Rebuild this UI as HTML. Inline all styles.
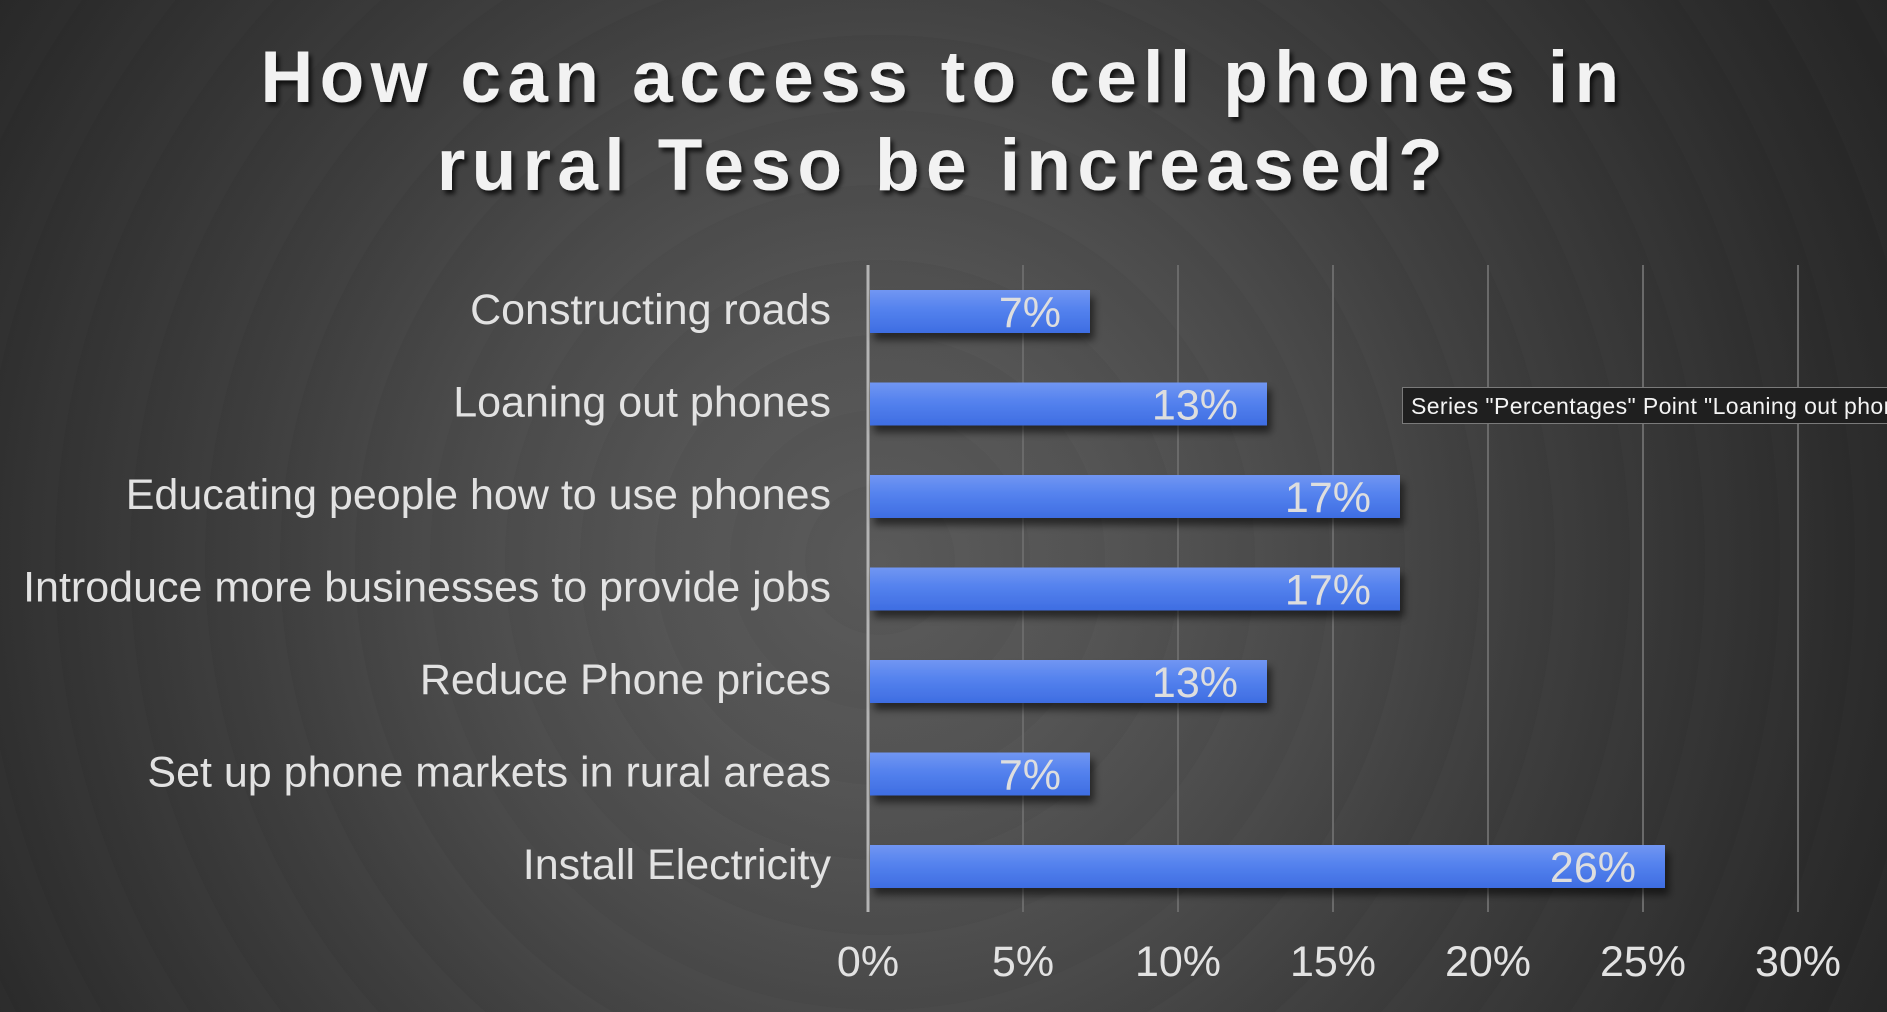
<!DOCTYPE html>
<html>
<head>
<meta charset="utf-8">
<style>
  html, body { margin:0; padding:0; }
  body {
    width:1887px; height:1012px; overflow:hidden; position:relative;
    background: radial-gradient(circle at 880px 560px, #585858 0px, #535353 220px, #4a4a4a 420px, #3e3e3e 620px, #323232 850px, #2a2a2a 1000px, #232323 1200px);
    font-family: "Liberation Sans", Arial, sans-serif;
  }
  .bands {
    position:absolute; left:0; top:0; width:1887px; height:1012px;
    background: repeating-radial-gradient(circle at 880px 560px, rgba(255,255,255,0.012) 0px, rgba(0,0,0,0.012) 75px);
  }
  svg { position:absolute; left:0; top:0; }
</style>
</head>
<body>
<div class="bands"></div>
<svg width="1887" height="1012" viewBox="0 0 1887 1012" xmlns="http://www.w3.org/2000/svg">
  <defs>
    <linearGradient id="bar" x1="0" y1="0" x2="0" y2="1">
      <stop offset="0" stop-color="#7196f2"/>
      <stop offset="0.45" stop-color="#5482ee"/>
      <stop offset="1" stop-color="#3e6de2"/>
    </linearGradient>
    <filter id="bshadow" x="-10%" y="-30%" width="120%" height="190%">
      <feDropShadow dx="4" dy="7" stdDeviation="4" flood-color="#000" flood-opacity="0.55"/>
    </filter>
    <filter id="tshadow" x="-5%" y="-20%" width="110%" height="150%">
      <feDropShadow dx="3" dy="4" stdDeviation="2.5" flood-color="#000" flood-opacity="0.75"/>
    </filter>
  </defs>

  <!-- Title -->
  <g filter="url(#tshadow)" fill="#f2f2f2" font-family="Liberation Sans, Arial, sans-serif" font-weight="bold" font-size="73" letter-spacing="6.4" text-anchor="middle">
    <text x="943" y="102">How can access to cell phones in</text>
    <text x="943" y="190">rural Teso be increased?</text>
  </g>

  <!-- Gridlines -->
  <g stroke="#6a6a6a" stroke-width="2">
    <line x1="1023" y1="265" x2="1023" y2="912"/>
    <line x1="1178" y1="265" x2="1178" y2="912"/>
    <line x1="1333" y1="265" x2="1333" y2="912"/>
    <line x1="1488" y1="265" x2="1488" y2="912"/>
    <line x1="1643" y1="265" x2="1643" y2="912"/>
    <line x1="1798" y1="265" x2="1798" y2="912"/>
  </g>
  <!-- Axis line -->
  <line x1="868" y1="265" x2="868" y2="912" stroke="#b4b4b4" stroke-width="3"/>

  <!-- Bars -->
  <g fill="url(#bar)" filter="url(#bshadow)">
    <rect x="870" y="290" width="220" height="43"/>
    <rect x="870" y="382.5" width="397" height="43"/>
    <rect x="870" y="475" width="530" height="43"/>
    <rect x="870" y="567.5" width="530" height="43"/>
    <rect x="870" y="660" width="397" height="43"/>
    <rect x="870" y="752.5" width="220" height="43"/>
    <rect x="870" y="845" width="795" height="43"/>
  </g>

  <!-- Data labels -->
  <g fill="#dedede" font-family="Liberation Sans, Arial, sans-serif" font-size="43" text-anchor="end">
    <text x="1061" y="327">7%</text>
    <text x="1238" y="419.5">13%</text>
    <text x="1371" y="512">17%</text>
    <text x="1371" y="604.5">17%</text>
    <text x="1238" y="697">13%</text>
    <text x="1061" y="789.5">7%</text>
    <text x="1636" y="882">26%</text>
  </g>

  <!-- Category labels -->
  <g fill="#e2e2e2" font-family="Liberation Sans, Arial, sans-serif" font-size="43" text-anchor="end">
    <text x="831" y="324">Constructing roads</text>
    <text x="831" y="416.5">Loaning out phones</text>
    <text x="831" y="509">Educating people how to use phones</text>
    <text x="831" y="601.5">Introduce more businesses to provide jobs</text>
    <text x="831" y="694">Reduce Phone prices</text>
    <text x="831" y="786.5">Set up phone markets in rural areas</text>
    <text x="831" y="879">Install Electricity</text>
  </g>

  <!-- Tick labels -->
  <g fill="#e2e2e2" font-family="Liberation Sans, Arial, sans-serif" font-size="43" text-anchor="middle">
    <text x="868" y="976">0%</text>
    <text x="1023" y="976">5%</text>
    <text x="1178" y="976">10%</text>
    <text x="1333" y="976">15%</text>
    <text x="1488" y="976">20%</text>
    <text x="1643" y="976">25%</text>
    <text x="1798" y="976">30%</text>
  </g>

  <!-- Tooltip -->
  <rect x="1402.5" y="387.5" width="500" height="36" fill="#1f1f1f" stroke="#7a7a7a" stroke-width="1"/>
  <text x="1411" y="414" fill="#f4f4f4" font-family="Liberation Sans, Arial, sans-serif" font-size="23" letter-spacing="0.4">Series "Percentages" Point "Loaning out phones"</text>
</svg>
</body>
</html>
